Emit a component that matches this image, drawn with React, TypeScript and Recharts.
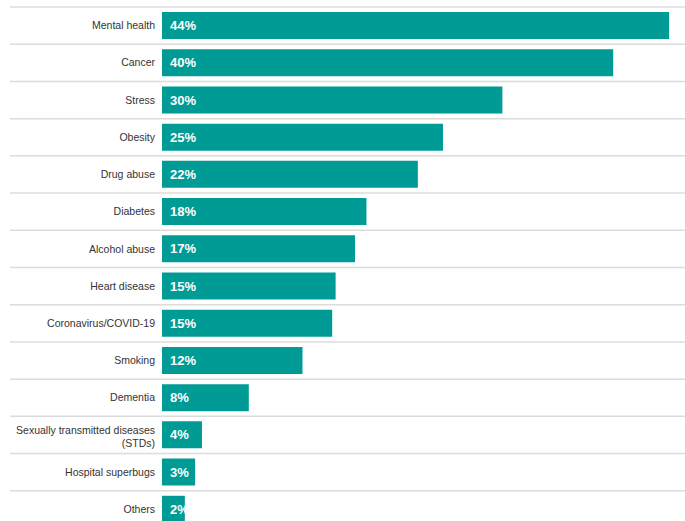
import React from 'react';
import { BarChart, Bar, XAxis, YAxis, LabelList } from 'recharts';

const categories = [
  'Mental health',
  'Cancer',
  'Stress',
  'Obesity',
  'Drug abuse',
  'Diabetes',
  'Alcohol abuse',
  'Heart disease',
  'Coronavirus/COVID-19',
  'Smoking',
  'Dementia',
  'Sexually transmitted diseases (STDs)',
  'Hospital superbugs',
  'Others',
];

const shares = [44.4, 39.5, 29.8, 24.6, 22.4, 17.9, 16.9, 15.2, 14.9, 12.3, 7.6, 3.5, 2.9, 2.0];

const data = categories.map((name, i) => ({ name, share: shares[i] }));

const CHART_W = 685;
const CHART_H = 540;
const MARGIN = { top: 7, right: 9, bottom: 12, left: 0 };
const BAND = (CHART_H - MARGIN.top - MARGIN.bottom) / categories.length;

// greedy wrap for the long labels
function wrap(text: string, max: number) {
  const lines: string[] = [];
  let cur = '';
  for (const w of text.split(' ')) {
    if (cur && (cur + ' ' + w).length > max) {
      lines.push(cur);
      cur = w;
    } else {
      cur = cur ? cur + ' ' + w : w;
    }
  }
  if (cur) lines.push(cur);
  return lines;
}

function CategoryTick(props: any) {
  const { x, y, payload } = props;
  const lines = wrap(payload.value, 30);
  const lineH = 13.7;
  const start = -((lines.length - 1) * lineH) / 2 + (lines.length > 1 ? 2 : 0);
  return (
    <g>
      <line x1={10} x2={CHART_W} y1={y - BAND / 2} y2={y - BAND / 2} stroke="#dcdcdc" strokeWidth={1.5} />
      <text
        x={x}
        y={y}
        textAnchor="end"
        fill="#333333"
        fontSize={10.5}
        fontFamily="'Liberation Sans', Arial, sans-serif"
      >
        {lines.map((l, i) => (
          <tspan key={i} x={x} y={y + start + i * lineH} dy="0.35em">
            {l}
          </tspan>
        ))}
      </text>
    </g>
  );
}

export default function App() {
  return (
    <div style={{ position: 'absolute', left: 0, top: 0, width: CHART_W, height: 521, overflow: 'hidden', background: '#fff' }}>
      <BarChart width={CHART_W} height={CHART_H} data={data} layout="vertical" margin={MARGIN}>
        <XAxis type="number" domain={[0, 45]} hide />
        <YAxis
          type="category"
          dataKey="name"
          width={162}
          axisLine={false}
          tickLine={false}
          tickSize={0}
          tickMargin={7}
          interval={0}
          tick={<CategoryTick />}
        />
        <Bar dataKey="share" fill="#009b95" barSize={27} isAnimationActive={false}>
          <LabelList
            dataKey="share"
            position="insideLeft"
            offset={8}
            formatter={(v: any) => `${Math.round(Number(v))}%`}
            fill="#ffffff"
            fontSize={13}
            fontWeight="bold"
            fontFamily="'Liberation Sans', Arial, sans-serif"
          />
        </Bar>
      </BarChart>
    </div>
  );
}
